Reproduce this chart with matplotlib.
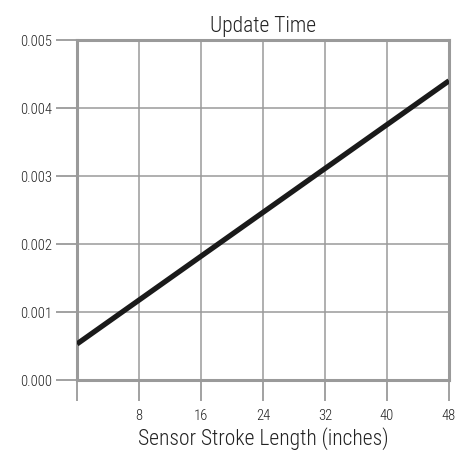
import matplotlib
matplotlib.use("Agg")
import matplotlib.pyplot as plt
from matplotlib import font_manager

fams = {f.name for f in font_manager.fontManager.ttflist}
cands = [n for n in ["Liberation Sans Narrow", "Roboto Condensed", "Open Sans Condensed", "DejaVu Sans"] if n in fams]
plt.rcParams['font.family'] = cands
plt.rcParams['font.stretch'] = 'condensed'
plt.rcParams['font.weight'] = 'light'
plt.rcParams['axes.titleweight'] = 'light'
plt.rcParams['axes.labelweight'] = 'light'

stroke_length = [0, 48]
update_time = [0.00053, 0.0044]
x_ticks = [0, 8, 16, 24, 32, 40, 48]
x_tick_labels = ["", "8", "16", "24", "32", "40", "48"]
y_ticks = [0.000, 0.001, 0.002, 0.003, 0.004, 0.005]
y_tick_labels = ["0.000", "0.001", "0.002", "0.003", "0.004", "0.005"]

fig = plt.figure(figsize=(4.55, 4.68), dpi=100)
ax = fig.add_axes([77/455, 1-380/468, (449-77)/455, (380-40)/468])

gray = "#9a9a9a"
ax.plot(stroke_length, update_time, color="#1a1a1a", linewidth=3.8, solid_capstyle="butt", zorder=3)
ax.set_xlim(0, 48)
ax.set_ylim(0, 0.005)
ax.set_xticks(x_ticks)
ax.set_xticklabels(x_tick_labels)
ax.set_yticks(y_ticks)
ax.set_yticklabels(y_tick_labels)
ax.grid(True, color=gray, linewidth=1.1)
for s in ax.spines.values():
    s.set_color(gray)
    s.set_linewidth(2.2)
ax.tick_params(axis='both', length=15, width=1.3, color=gray, labelsize=10.5, labelcolor="#222222", pad=3)
ax.tick_params(axis='x', pad=6)
ax.set_title("Update Time", fontsize=15.5, color="#222222", pad=6, fontweight='light')
ax.set_xlabel("Sensor Stroke Length (inches)", fontsize=15.5, color="#222222", labelpad=3, fontweight='light')

fig.savefig("out.png", dpi=100)
